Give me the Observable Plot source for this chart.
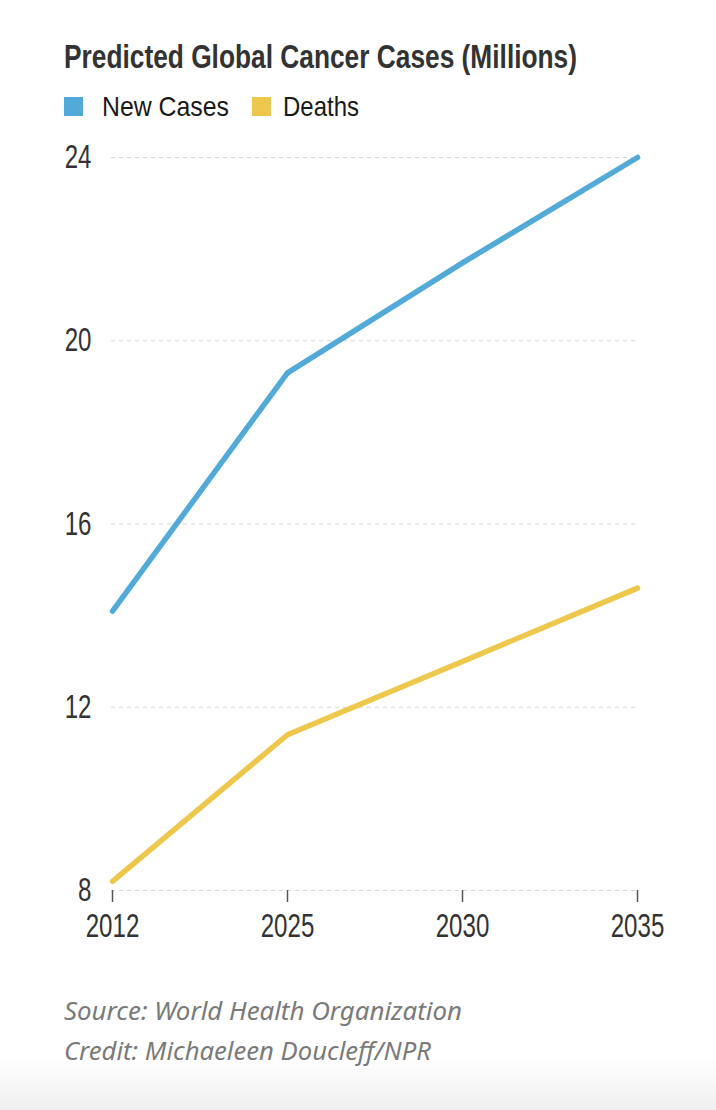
<!DOCTYPE html>
<html><head><meta charset="utf-8">
<script src="https://cdn.jsdelivr.net/npm/d3@7"></script>
<script src="https://cdn.jsdelivr.net/npm/@observablehq/plot@0.6"></script>
<style>
html,body{margin:0;padding:0;}
body{width:716px;height:1110px;position:relative;overflow:hidden;background:linear-gradient(to bottom,#fff 0,#fff 1058px,#efefef 1110px);font-family:"Liberation Sans",Arial,sans-serif;}
.abs{position:absolute;white-space:nowrap;line-height:1;transform-origin:0 0;display:inline-block;}
#title{left:64px;top:40px;font-weight:bold;font-size:33px;color:#333;}
.lg{top:93px;font-size:28px;color:#1a1a1a;}
.sw{position:absolute;top:97px;width:19px;height:19px;}
#chart{position:absolute;left:0;top:130px;}
.cap{left:64px;font-family:"Noto Sans","Open Sans",sans-serif;font-style:italic;font-size:25px;color:#7a7a7a;}
</style></head>
<body>
<div id="title" class="abs" data-w="513">Predicted Global Cancer Cases (Millions)</div>
<div id="legend"></div>
<div id="chart"></div>
<div class="abs cap" style="top:998px" data-w="398">Source: World Health Organization</div>
<div class="abs cap" style="top:1038px" data-w="367">Credit: Michaeleen Doucleff/NPR</div>
<script>
const years = ["2012", "2025", "2030", "2035"];
const newCases = [14.1, 19.3, 21.7, 24.0];
const deaths = [8.2, 11.4, 13.0, 14.6];
const seriesNames = ["New Cases", "Deaths"];
const seriesColors = ["#52aad9", "#eec84c"];
const yTicks = [8, 12, 16, 20, 24];

const data = [];
years.forEach((yr, i) => data.push({year: yr, value: newCases[i], series: seriesNames[0]}));
years.forEach((yr, i) => data.push({year: yr, value: deaths[i], series: seriesNames[1]}));

// legend
const legendLayout = [
  {sw: 64, tx: 102, w: 127},
  {sw: 252, tx: 283, w: 76}
];
const legend = document.getElementById("legend");
seriesNames.forEach((s, i) => {
  const sw = document.createElement("div");
  sw.className = "sw";
  sw.style.left = legendLayout[i].sw + "px";
  sw.style.background = seriesColors[i];
  legend.appendChild(sw);
  const t = document.createElement("div");
  t.className = "abs lg";
  t.style.left = legendLayout[i].tx + "px";
  t.dataset.w = legendLayout[i].w;
  t.textContent = s;
  legend.appendChild(t);
});

const font = '"Liberation Sans",Arial,sans-serif';
const chart = Plot.plot({
  width: 716,
  height: 820,
  marginLeft: 111,
  marginRight: 78,
  marginTop: 27,
  marginBottom: 60,
  style: {fontFamily: font, fontSize: "33px", color: "#333", background: "transparent", overflow: "visible"},
  x: {type: "point", domain: years, padding: 0},
  y: {domain: [8, 24]},
  color: {domain: seriesNames, range: seriesColors},
  marks: [
    Plot.gridY(yTicks, {stroke: "#d6d6d6", strokeOpacity: 1, strokeWidth: 1.2, strokeDasharray: "4,4"}),
    Plot.axisY(yTicks, {tickSize: 0, tickPadding: 20, label: null, fontSize: 33, fill: "#333"}),
    Plot.axisX({tickSize: 12, tickPadding: 11, label: null, fontSize: 33, stroke: "#555", strokeWidth: 1.5, fill: "#333"}),
    Plot.line(data, {x: "year", y: "value", z: "series", stroke: "series", strokeWidth: 5.5, strokeLinecap: "round", strokeLinejoin: "round"})
  ]
});
document.getElementById("chart").appendChild(chart);

// condense tick label glyphs horizontally
chart.querySelectorAll('g[aria-label$="tick label"] text').forEach(t => {
  const len = t.getComputedTextLength();
  t.setAttribute("textLength", (len * 0.73).toFixed(2));
  t.setAttribute("lengthAdjust", "spacingAndGlyphs");
});

// condense HTML texts to their widths
document.querySelectorAll("[data-w]").forEach(el => {
  const w = el.getBoundingClientRect().width;
  el.style.transform = `scaleX(${(+el.dataset.w / w).toFixed(4)})`;
});
</script>
</body></html>
